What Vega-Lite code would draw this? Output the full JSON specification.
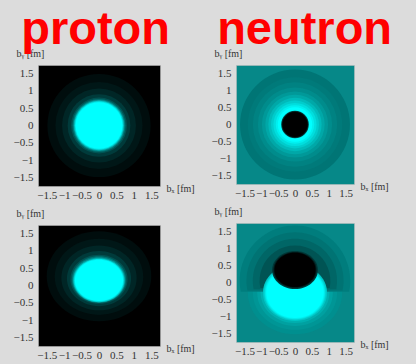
{
  "$schema": "https://vega.github.io/schema/vega-lite/v6.json",
  "background": "#dcdcdc",
  "padding": {"left": 12, "top": 5, "right": 24, "bottom": 6},
  "datasets": {
    "pt": [
      {"x": 0, "y": 0, "r": 1.48, "d": 0.05, "form": "c"},
      {"x": 0, "y": 0, "r": 1.25, "d": 0.09, "form": "c"},
      {"x": 0, "y": 0, "r": 1.06, "d": 0.15, "form": "c"},
      {"x": 0, "y": 0, "r": 0.9, "d": 0.23, "form": "c"},
      {"x": 0, "y": 0, "r": 0.8, "d": 0.33, "form": "c"},
      {"x": 0, "y": 0, "r": 0.76, "d": 0.46, "form": "c"},
      {"x": 0, "y": 0, "r": 0.73, "d": 0.62, "form": "c"},
      {"x": 0, "y": 0, "r": 0.71, "d": 0.78, "form": "c"},
      {"x": 0, "y": 0, "r": 0.69, "d": 0.91, "form": "c"},
      {"x": 0, "y": 0, "r": 0.67, "d": 1.0, "form": "c"}
    ],
    "pb": [
      {"x": 0, "y": 0.27, "r": 1.5, "d": 0.05, "form": "o86"},
      {"x": 0, "y": 0.25, "r": 1.27, "d": 0.09, "form": "o86"},
      {"x": 0, "y": 0.22, "r": 1.08, "d": 0.15, "form": "o86"},
      {"x": 0, "y": 0.2, "r": 0.92, "d": 0.23, "form": "o86"},
      {"x": 0, "y": 0.18, "r": 0.82, "d": 0.33, "form": "o86"},
      {"x": 0, "y": 0.17, "r": 0.78, "d": 0.46, "form": "o86"},
      {"x": 0, "y": 0.16, "r": 0.75, "d": 0.62, "form": "o86"},
      {"x": 0, "y": 0.15, "r": 0.73, "d": 0.78, "form": "o86"},
      {"x": 0, "y": 0.15, "r": 0.71, "d": 0.91, "form": "o86"},
      {"x": 0, "y": 0.15, "r": 0.69, "d": 1.0, "form": "o86"}
    ],
    "nt": [
      {"x": 0, "y": 0, "r": 1.63, "d": 0.46, "form": "c"},
      {"x": 0, "y": 0, "r": 1.4, "d": 0.48, "form": "c"},
      {"x": 0, "y": 0, "r": 1.25, "d": 0.51, "form": "c"},
      {"x": 0, "y": 0, "r": 1.1, "d": 0.55, "form": "c"},
      {"x": 0, "y": 0, "r": 0.98, "d": 0.6, "form": "c"},
      {"x": 0, "y": 0, "r": 0.88, "d": 0.66, "form": "c"},
      {"x": 0, "y": 0, "r": 0.79, "d": 0.73, "form": "c"},
      {"x": 0, "y": 0, "r": 0.71, "d": 0.8, "form": "c"},
      {"x": 0, "y": 0, "r": 0.64, "d": 0.87, "form": "c"},
      {"x": 0, "y": 0, "r": 0.57, "d": 0.94, "form": "c"},
      {"x": 0, "y": 0, "r": 0.51, "d": 1.0, "form": "c"},
      {"x": 0, "y": 0, "r": 0.41, "d": 0.3, "form": "c"},
      {"x": 0, "y": 0, "r": 0.39, "d": 0.1, "form": "c"},
      {"x": 0, "y": 0, "r": 0.37, "d": 0.0, "form": "c"}
    ],
    "nb": [
      {"x": 0, "y": -0.3, "r": 1.4, "d": 0.56, "form": "o88"},
      {"x": 0, "y": -0.3, "r": 1.25, "d": 0.59, "form": "o88"},
      {"x": 0, "y": -0.3, "r": 1.12, "d": 0.63, "form": "o88"},
      {"x": 0, "y": -0.3, "r": 1.02, "d": 0.69, "form": "o88"},
      {"x": 0, "y": 0.05, "r": 1.64, "d": 0.49, "form": "cap"},
      {"x": 0, "y": 0.05, "r": 1.44, "d": 0.45, "form": "cap"},
      {"x": 0, "y": 0.05, "r": 1.25, "d": 0.4, "form": "cap"},
      {"x": 0, "y": 0.05, "r": 1.05, "d": 0.33, "form": "cap"},
      {"x": 0, "y": -0.3, "r": 0.95, "d": 0.78, "form": "o88"},
      {"x": 0, "y": -0.3, "r": 0.91, "d": 0.87, "form": "o88"},
      {"x": 0, "y": -0.3, "r": 0.88, "d": 0.95, "form": "o88"},
      {"x": 0, "y": -0.3, "r": 0.85, "d": 1.0, "form": "o88"},
      {"x": 0, "y": 0.37, "r": 0.68, "d": 0.22, "form": "o83"},
      {"x": 0, "y": 0.37, "r": 0.64, "d": 0.1, "form": "o83"},
      {"x": 0, "y": 0.37, "r": 0.61, "d": 0.0, "form": "o83"}
    ]
  },
  "hconcat": [
    {
      "title": {"text": "proton", "color": "#ff0000", "font": "Liberation Sans", "fontSize": 47, "fontWeight": "bold", "anchor": "middle", "offset": -6, "dx": -8},
      "spacing": 6,
      "resolve": {"scale": {"x": "independent", "y": "independent", "size": "independent", "color": "independent", "shape": "independent"}},
      "vconcat": [
        {
          "width": 122, "height": 121,
          "data": {"name": "pt"},
          "view": {"fill": "#000000", "stroke": "#bdbdbd", "strokeDash": [1, 1]},
          "mark": {"type": "point", "filled": true, "opacity": 1, "strokeWidth": 0, "clip": true},
          "encoding": {
            "x": {"field": "x", "type": "quantitative", "scale": {"domain": [-1.75, 1.75], "nice": false, "zero": false}, "axis": {"values": [-1.5, -1, -0.5, 0, 0.5, 1, 1.5], "format": "~g", "title": "bₓ [fm]", "titleX": 128, "titleY": 2}},
            "y": {"field": "y", "type": "quantitative", "scale": {"domain": [-1.75, 1.75], "nice": false, "zero": false}, "axis": {"values": [-1.5, -1, -0.5, 0, 0.5, 1, 1.5], "format": "~g", "title": "bᵧ [fm]", "titleX": -22, "titleY": -12}},
            "size": {"field": "r", "type": "quantitative", "scale": {"type": "pow", "exponent": 2, "domain": [0, 1.75], "range": [0, 14884]}, "legend": null},
            "shape": {"field": "form", "type": "nominal", "scale": {"domain": ["c", "o86", "o88", "cap", "o83"], "range": ["circle", "M-1,0A1,0.86,0,1,0,1,0A1,0.86,0,1,0,-1,0Z", "M-1,0A1,0.88,0,1,0,1,0A1,0.88,0,1,0,-1,0Z", "M-0.98,0.2A1,1,0,1,1,0.98,0.2Z", "M-1,0A1,0.83,0,1,0,1,0A1,0.83,0,1,0,-1,0Z"]}, "legend": null},
            "color": {"field": "d", "type": "quantitative", "scale": {"domain": [0, 1], "range": ["#000000", "#00ffff"], "interpolate": "rgb"}, "legend": null}
          }
        },
        {
          "width": 122, "height": 121,
          "data": {"name": "pb"},
          "view": {"fill": "#000000", "stroke": "#bdbdbd", "strokeDash": [1, 1]},
          "mark": {"type": "point", "filled": true, "opacity": 1, "strokeWidth": 0, "clip": true},
          "encoding": {
            "x": {"field": "x", "type": "quantitative", "scale": {"domain": [-1.75, 1.75], "nice": false, "zero": false}, "axis": {"values": [-1.5, -1, -0.5, 0, 0.5, 1, 1.5], "format": "~g", "title": "bₓ [fm]", "titleX": 128, "titleY": 2}},
            "y": {"field": "y", "type": "quantitative", "scale": {"domain": [-1.75, 1.75], "nice": false, "zero": false}, "axis": {"values": [-1.5, -1, -0.5, 0, 0.5, 1, 1.5], "format": "~g", "title": "bᵧ [fm]", "titleX": -22, "titleY": -12}},
            "size": {"field": "r", "type": "quantitative", "scale": {"type": "pow", "exponent": 2, "domain": [0, 1.75], "range": [0, 14884]}, "legend": null},
            "shape": {"field": "form", "type": "nominal", "scale": {"domain": ["c", "o86", "o88", "cap", "o83"], "range": ["circle", "M-1,0A1,0.86,0,1,0,1,0A1,0.86,0,1,0,-1,0Z", "M-1,0A1,0.88,0,1,0,1,0A1,0.88,0,1,0,-1,0Z", "M-0.98,0.2A1,1,0,1,1,0.98,0.2Z", "M-1,0A1,0.83,0,1,0,1,0A1,0.83,0,1,0,-1,0Z"]}, "legend": null},
            "color": {"field": "d", "type": "quantitative", "scale": {"domain": [0, 1], "range": ["#000000", "#00ffff"], "interpolate": "rgb"}, "legend": null}
          }
        }
      ]
    },
    {
      "title": {"text": "neutron", "color": "#ff0000", "font": "Liberation Sans", "fontSize": 47, "fontWeight": "bold", "anchor": "middle", "offset": -6, "dx": 5},
      "spacing": 6,
      "resolve": {"scale": {"x": "independent", "y": "independent", "size": "independent", "color": "independent", "shape": "independent"}},
      "vconcat": [
        {
          "width": 118, "height": 119,
          "data": {"name": "nt"},
          "view": {"fill": "#068888", "stroke": "#bdbdbd", "strokeDash": [1, 1]},
          "mark": {"type": "point", "filled": true, "opacity": 1, "strokeWidth": 0, "clip": true},
          "encoding": {
            "x": {"field": "x", "type": "quantitative", "scale": {"domain": [-1.75, 1.75], "nice": false, "zero": false}, "axis": {"values": [-1.5, -1, -0.5, 0, 0.5, 1, 1.5], "format": "~g", "title": "bₓ [fm]", "titleX": 124, "titleY": 2}},
            "y": {"field": "y", "type": "quantitative", "scale": {"domain": [-1.75, 1.75], "nice": false, "zero": false}, "axis": {"values": [-1.5, -1, -0.5, 0, 0.5, 1, 1.5], "format": "~g", "title": "bᵧ [fm]", "titleX": -22, "titleY": -12}},
            "size": {"field": "r", "type": "quantitative", "scale": {"type": "pow", "exponent": 2, "domain": [0, 1.75], "range": [0, 13924]}, "legend": null},
            "shape": {"field": "form", "type": "nominal", "scale": {"domain": ["c", "o86", "o88", "cap", "o83"], "range": ["circle", "M-1,0A1,0.86,0,1,0,1,0A1,0.86,0,1,0,-1,0Z", "M-1,0A1,0.88,0,1,0,1,0A1,0.88,0,1,0,-1,0Z", "M-0.98,0.2A1,1,0,1,1,0.98,0.2Z", "M-1,0A1,0.83,0,1,0,1,0A1,0.83,0,1,0,-1,0Z"]}, "legend": null},
            "color": {"field": "d", "type": "quantitative", "scale": {"domain": [0, 1], "range": ["#000000", "#00ffff"], "interpolate": "rgb"}, "legend": null}
          }
        },
        {
          "width": 118, "height": 119,
          "data": {"name": "nb"},
          "view": {"fill": "#068888", "stroke": "#bdbdbd", "strokeDash": [1, 1]},
          "mark": {"type": "point", "filled": true, "opacity": 1, "strokeWidth": 0, "clip": true},
          "encoding": {
            "x": {"field": "x", "type": "quantitative", "scale": {"domain": [-1.75, 1.75], "nice": false, "zero": false}, "axis": {"values": [-1.5, -1, -0.5, 0, 0.5, 1, 1.5], "format": "~g", "title": "bₓ [fm]", "titleX": 124, "titleY": 2}},
            "y": {"field": "y", "type": "quantitative", "scale": {"domain": [-1.75, 1.75], "nice": false, "zero": false}, "axis": {"values": [-1.5, -1, -0.5, 0, 0.5, 1, 1.5], "format": "~g", "title": "bᵧ [fm]", "titleX": -22, "titleY": -12}},
            "size": {"field": "r", "type": "quantitative", "scale": {"type": "pow", "exponent": 2, "domain": [0, 1.75], "range": [0, 13924]}, "legend": null},
            "shape": {"field": "form", "type": "nominal", "scale": {"domain": ["c", "o86", "o88", "cap", "o83"], "range": ["circle", "M-1,0A1,0.86,0,1,0,1,0A1,0.86,0,1,0,-1,0Z", "M-1,0A1,0.88,0,1,0,1,0A1,0.88,0,1,0,-1,0Z", "M-0.98,0.2A1,1,0,1,1,0.98,0.2Z", "M-1,0A1,0.83,0,1,0,1,0A1,0.83,0,1,0,-1,0Z"]}, "legend": null},
            "color": {"field": "d", "type": "quantitative", "scale": {"domain": [0, 1], "range": ["#000000", "#00ffff"], "interpolate": "rgb"}, "legend": null}
          }
        }
      ]
    }
  ],
  "spacing": 15,
  "resolve": {"scale": {"x": "independent", "y": "independent", "size": "independent", "color": "independent", "shape": "independent"}},
  "config": {
    "axis": {"labelFont": "Liberation Serif", "labelFontSize": 11, "labelColor": "#333333", "titleFont": "Liberation Serif", "titleFontSize": 10, "titleFontWeight": "normal", "titleColor": "#333333", "ticks": false, "domain": false, "grid": false, "labelOverlap": false, "labelFlush": false},
    "axisX": {"labelPadding": 3, "titleAngle": 0, "titleAlign": "left", "titleBaseline": "middle"},
    "axisY": {"labelPadding": 5, "titleAngle": 0, "titleAlign": "left", "titleBaseline": "middle"}
  }
}
